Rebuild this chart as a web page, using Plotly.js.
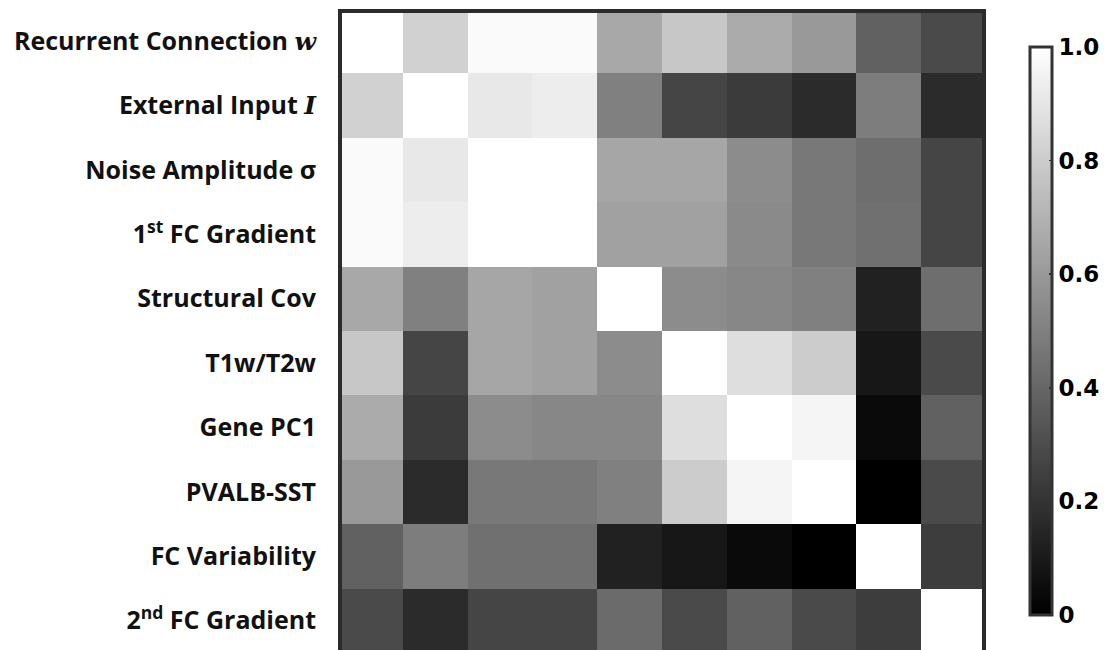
<!DOCTYPE html>
<html>
<head>
<meta charset="utf-8">
<script src="https://cdn.plot.ly/plotly-3.0.1.min.js"></script>
<style>
  html, body { margin: 0; padding: 0; background: #ffffff; }
  #chart { width: 1107px; height: 650px; }
</style>
</head>
<body>
<div id="chart"></div>
<script>
// Measures compared pairwise (rows and columns share the same order)
const measures = [
  'Recurrent Connection <span style="font-family:\'DejaVu Serif\';font-style:italic">w</span>',
  'External Input <span style="font-family:\'DejaVu Serif\';font-style:italic">I</span>',
  'Noise Amplitude σ',
  '1<sup>st</sup> FC Gradient',
  'Structural Cov',
  'T1w/T2w',
  'Gene PC1',
  'PVALB-SST',
  'FC Variability',
  '2<sup>nd</sup> FC Gradient'
];

// Similarity between measures, one array per row
const rowRecurrent   = [1.00, 0.82, 0.98, 0.98, 0.66, 0.78, 0.67, 0.60, 0.38, 0.29];
const rowExternal    = [0.82, 1.00, 0.91, 0.93, 0.50, 0.27, 0.23, 0.17, 0.49, 0.17];
const rowNoise       = [0.98, 0.91, 1.00, 1.00, 0.65, 0.65, 0.55, 0.47, 0.43, 0.27];
const rowGradient1   = [0.98, 0.93, 1.00, 1.00, 0.63, 0.63, 0.54, 0.47, 0.44, 0.27];
const rowStructural  = [0.66, 0.50, 0.65, 0.63, 1.00, 0.55, 0.53, 0.50, 0.13, 0.43];
const rowT1wT2w      = [0.78, 0.27, 0.65, 0.63, 0.55, 1.00, 0.87, 0.80, 0.09, 0.29];
const rowGenePC1     = [0.67, 0.23, 0.55, 0.53, 0.53, 0.87, 1.00, 0.96, 0.04, 0.38];
const rowPvalbSst    = [0.60, 0.17, 0.47, 0.47, 0.50, 0.80, 0.96, 1.00, 0.00, 0.29];
const rowVariability = [0.38, 0.49, 0.44, 0.44, 0.13, 0.09, 0.04, 0.00, 1.00, 0.24];
const rowGradient2   = [0.29, 0.17, 0.27, 0.27, 0.42, 0.29, 0.38, 0.29, 0.24, 1.00];

// Colour bar ticks
const cbTickVals = [0, 0.2, 0.4, 0.6, 0.8, 1.0];
const cbTickText = ['0', '0.2', '0.4', '0.6', '0.8', '1.0'];

const z = [rowRecurrent, rowExternal, rowNoise, rowGradient1, rowStructural,
           rowT1wT2w, rowGenePC1, rowPvalbSst, rowVariability, rowGradient2];
const idx = measures.map((_, i) => i);

const W = 1107, H = 650;
const plotL = 338, plotR = 986, plotT = 9;
const plotW = plotR - plotL, plotH = H - plotT;
const cellH = 64.37;
const frameW = 4;

// Colour bar box in pixels
const cbLeft = 1030, cbTop = 47, cbLen = 568;

const trace = {
  type: 'heatmap',
  z: z,
  x: idx,
  y: idx,
  zmin: 0,
  zmax: 1,
  colorscale: [[0, '#000000'], [1, '#ffffff']],
  hoverinfo: 'z',
  colorbar: {
    x: (cbLeft - plotL) / plotW, xanchor: 'left',
    y: (H - cbTop) / plotH, yanchor: 'top',
    lenmode: 'pixels', len: cbLen,
    thickness: 22,
    thicknessmode: 'pixels',
    xpad: 0, ypad: 0,
    outlinewidth: 3,
    outlinecolor: '#333333',
    tickmode: 'array',
    tickvals: cbTickVals,
    ticktext: cbTickText,
    ticks: 'inside',
    ticklen: 4,
    tickwidth: 1.5,
    tickcolor: '#333333',
    tickfont: { family: '"DejaVu Sans", sans-serif', size: 23, color: '#000000', weight: 'bold' }
  }
};

const layout = {
  width: W,
  height: H,
  paper_bgcolor: '#ffffff',
  plot_bgcolor: '#ffffff',
  margin: { l: plotL, r: W - plotR, t: plotT, b: 0, pad: 0 },
  xaxis: {
    range: [-0.5, 9.5],
    showticklabels: false,
    showgrid: false,
    zeroline: false,
    ticks: '',
    fixedrange: true
  },
  yaxis: {
    range: [-0.5 + plotH / cellH, -0.5],
    tickmode: 'array',
    tickvals: idx,
    ticktext: measures,
    ticks: 'outside',
    ticklen: 16,
    tickcolor: 'rgba(0,0,0,0)',
    showgrid: false,
    zeroline: false,
    fixedrange: true,
    tickfont: { family: '"Open Sans", "Noto Sans", sans-serif', size: 25, color: '#111111', weight: 'bold' }
  },
  shapes: [{
    type: 'rect',
    xref: 'paper', yref: 'paper',
    x0: (frameW / 2) / plotW,
    x1: 1 - (frameW / 2) / plotW,
    y0: -0.05,
    y1: 1 - (frameW / 2) / plotH,
    line: { color: '#2b2b2b', width: frameW },
    fillcolor: 'rgba(0,0,0,0)',
    layer: 'above'
  }],
  showlegend: false
};

Plotly.newPlot('chart', [trace], layout, { displayModeBar: false, staticPlot: true });
</script>
</body>
</html>
